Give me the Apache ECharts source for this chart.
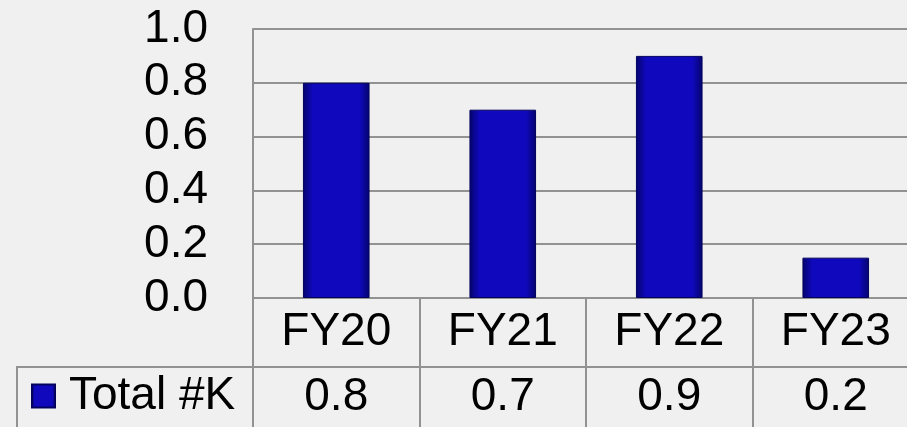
<!DOCTYPE html>
<html>
<head>
<meta charset="utf-8">
<script src="https://cdn.jsdelivr.net/npm/echarts@6/dist/echarts.min.js"></script>
<style>
html, body { margin: 0; padding: 0; background: #eeeeee; }
#chart { width: 907px; height: 427px; }
</style>
</head>
<body>
<div id="chart"></div>
<script>
const categories = ['FY20', 'FY21', 'FY22', 'FY23'];
const totals = [0.8, 0.7, 0.9, 0.15];
const seriesName = 'Total #K';

const lineColor = '#929292';
const font = '"Liberation Sans", Arial, sans-serif';

// table row shows values rounded to one decimal, like the source sheet
const fmt = v => (Math.round(v * 10) / 10).toFixed(1);

const barColor = new echarts.graphic.LinearGradient(0, 0, 1, 0, [
    {offset: 0, color: '#04046c'},
    {offset: 0.15, color: '#1008bc'},
    {offset: 0.85, color: '#1008bc'},
    {offset: 1, color: '#04046c'}
]);

const chart = echarts.init(document.getElementById('chart'));
chart.setOption({
    backgroundColor: '#f0f0f0',
    animation: false,
    textStyle: {fontFamily: font},
    grid: {left: 253, top: 29, right: -12, bottom: 129, outerBoundsMode: 'none', containLabel: false},
    legend: {
        data: [seriesName],
        left: 31,
        top: 373,
        padding: 0,
        icon: 'rect',
        itemWidth: 23,
        itemHeight: 23,
        selectedMode: false,
        textStyle: {fontSize: 46, color: '#000', fontFamily: font, padding: [0, 0, 0, 9]}
    },
    xAxis: {
        type: 'category',
        data: categories,
        axisLine: {show: true, lineStyle: {color: lineColor, width: 2}},
        axisTick: {show: true, length: 140, lineStyle: {color: lineColor, width: 2}},
        axisLabel: {
            interval: 0,
            margin: 0,
            formatter: (v, i) => '{a|' + v + '}\n{b|' + fmt(totals[i]) + '}',
            rich: {
                a: {fontSize: 46, lineHeight: 69, color: '#000', fontFamily: font},
                b: {fontSize: 46, lineHeight: 60, color: '#000', fontFamily: font}
            }
        },
        splitLine: {show: false}
    },
    yAxis: {
        type: 'value',
        min: 0,
        max: 1,
        interval: 0.2,
        axisLine: {show: true, lineStyle: {color: lineColor, width: 2}},
        axisTick: {show: false},
        axisLabel: {
            margin: 45,
            fontSize: 46,
            color: '#000',
            fontFamily: font,
            formatter: v => v.toFixed(1)
        },
        splitLine: {lineStyle: {color: lineColor, width: 2}}
    },
    graphic: [{
        type: 'polyline',
        silent: true,
        shape: {points: [[17, 440], [17, 367], [920, 367]]},
        style: {stroke: lineColor, lineWidth: 2, fill: null}
    }],
    series: [{
        name: seriesName,
        type: 'bar',
        data: totals,
        barWidth: '40%',
        itemStyle: {color: barColor, borderColor: '#03035e', borderWidth: 1}
    }]
});
</script>
</body>
</html>
